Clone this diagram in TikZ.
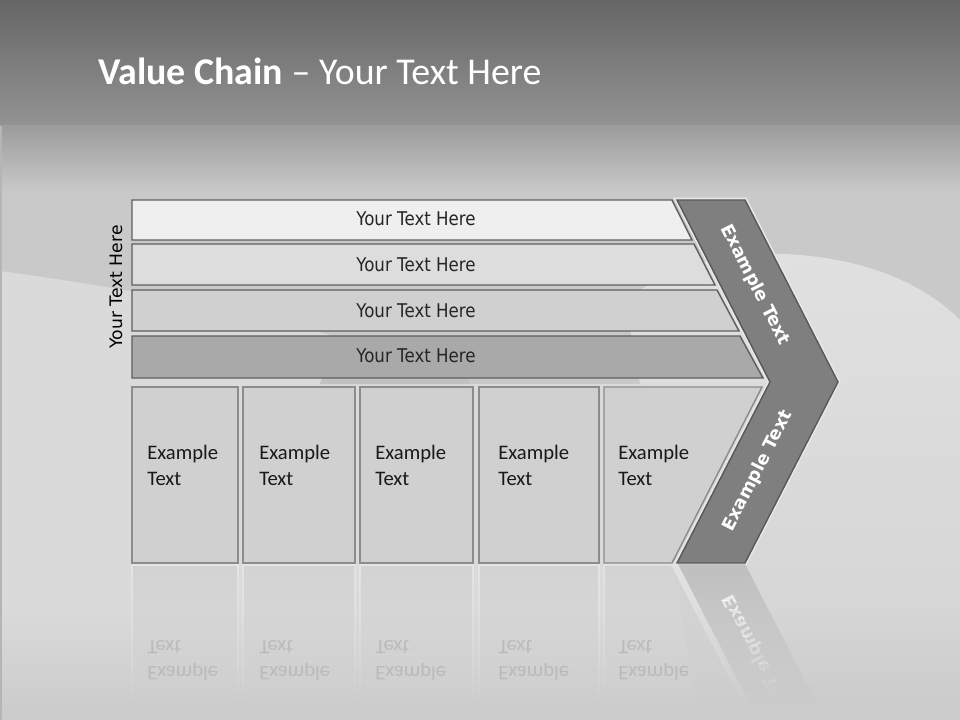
\documentclass[tikz,border=0pt]{standalone}
\usepackage{fontspec}
\setmainfont{Carlito}
\newfontfamily\dv{DejaVu Sans}
\newfontfamily\dvn[FakeStretch=0.88]{DejaVu Sans}
\usetikzlibrary{fadings}
\definecolor{bgtop}{HTML}{666666}
\definecolor{bgband}{HTML}{939393}
\definecolor{bgmidtop}{HTML}{9C9C9C}
\definecolor{bgmid}{HTML}{C9C9C9}
\definecolor{bglight}{HTML}{DADADA}
\definecolor{bglighter}{HTML}{E0E0E0}
\definecolor{bgbottom}{HTML}{CBCBCB}
\definecolor{barA}{HTML}{EFEFEF}
\definecolor{barB}{HTML}{DDDDDD}
\definecolor{barC}{HTML}{D0D0D0}
\definecolor{barD}{HTML}{A9A9A9}
\definecolor{barline}{HTML}{5F5F5F}
\definecolor{boxfill}{HTML}{D0D0D0}
\definecolor{boxline}{HTML}{8C8C8C}
\definecolor{chevfill}{HTML}{7F7F7F}
\definecolor{chevline}{HTML}{5A5A5A}
\definecolor{glow}{HTML}{E8E8E8}
\definecolor{bartext}{HTML}{262626}
\definecolor{reftext}{HTML}{A8A8A8}
\tikzfading[name=reflfade, top color=transparent!35, bottom color=transparent!100]
\tikzfading[name=bottomfade, top color=transparent!100, bottom color=transparent!0]
\begin{document}
\begin{tikzpicture}[x=0.75pt,y=-0.75pt,
  barshape/.style={draw=barline, line width=1.1pt},
  boxshape/.style={fill=boxfill, draw=boxline, line width=1.1pt},
  bartxt/.style={font=\dvn\fontsize{14.2}{17}\selectfont, text=bartext, inner sep=0pt},
  boxtxt/.style={font=\fontsize{15.5}{19.5}\selectfont, text=black!90, align=left, anchor=north west, inner sep=0pt},
  chevtxt/.style={font=\dv\bfseries\fontsize{13.3}{16}\selectfont, text=white, inner sep=0pt},
  reflbox/.style={fill=boxfill, draw=white!85!gray, line width=1.1pt, path fading=reflfade}]
\useasboundingbox (0,0) rectangle (960,720);
% background
\fill[bgmid] (0,0) rectangle (960,720);
\shade[top color=bgtop, bottom color=bgband] (0,0) rectangle (960,126);
\shade[top color=bgmidtop, bottom color=bgmid] (0,126) rectangle (960,192);
\fill[bglight] (0,271) .. controls (80,282) and (200,300) .. (330,335) -- (330,720) -- (0,720) -- cycle;
\fill[bglight] (300,384) rectangle (700,720);
\shade[top color=bglighter, bottom color=bglight!97!black] (625,300) .. controls (680,260) and (740,250) .. (800,255) .. controls (880,262) and (930,290) .. (960,320) -- (960,720) -- (700,720) -- cycle;
\fill[bgmid!96!black] (320,384) .. controls (330,340) and (460,340) .. (470,384) -- cycle;
\fill[bgbottom, path fading=bottomfade] (0,610) rectangle (960,720);
\fill[bgmid!90!black] (0,126) rectangle (2,720);
% title
\node[anchor=base west, inner sep=0pt, text=white, font=\fontsize{28.4}{34}\selectfont] (title) at (98,85) {\textbf{Value Chain} – Your Text Here};
% side label
\node[rotate=90, font=\dv\fontsize{12.9}{15}\selectfont, text=black, inner sep=0pt] (side) at (116,287) {Your Text Here};
% bars
\fill[barA, barshape] (132,200) -- (672,200) -- (692,240) -- (132,240) -- cycle;
\fill[barB, barshape] (132,244) -- (694,244) -- (715,285) -- (132,285) -- cycle;
\fill[barC, barshape] (132,290) -- (717,290) -- (739,331) -- (132,331) -- cycle;
\fill[barD, barshape] (132,336) -- (740,336) -- (763,378) -- (132,378) -- cycle;
\node[bartxt] (t1) at (416,219) {Your Text Here};
\node[bartxt] (t2) at (416,265) {Your Text Here};
\node[bartxt] (t3) at (416,311) {Your Text Here};
\node[bartxt] (t4) at (416,356) {Your Text Here};
% boxes
\path[boxshape] (132,387) rectangle (238,563);
\path[boxshape] (243,387) rectangle (355,563);
\path[boxshape] (360,387) rectangle (473,563);
\path[boxshape] (479,387) rectangle (599,563);
\path[boxshape] (604,387) -- (762,387) -- (672,563) -- (604,563) -- cycle;
\node[boxtxt] (b1) at (147,445) {Example\\Text};
\node[boxtxt] (b2) at (259,445) {Example\\Text};
\node[boxtxt] (b3) at (375,445) {Example\\Text};
\node[boxtxt] (b4) at (498,445) {Example\\Text};
\node[boxtxt] (b5) at (618,445) {Example\\Text};
% chevron
\draw[glow, line width=3.5pt, line join=miter] (677,200) -- (745,200) -- (838,382) -- (745,563) -- (677,563) -- (770,382) -- cycle;
\filldraw[fill=chevfill, draw=chevline, line width=1.1pt] (677,200) -- (745,200) -- (838,382) -- (745,563) -- (677,563) -- (770,382) -- cycle;
\node[chevtxt, rotate=-63] (c1) at (755,285) {Example Text};
\node[chevtxt, rotate=63] (c2) at (758,471) {Example Text};
% reflection
\begin{scope}
\clip (0,564) rectangle (960,706);
\path[reflbox] (132,565) rectangle (238,706);
\path[reflbox] (243,565) rectangle (355,706);
\path[reflbox] (360,565) rectangle (473,706);
\path[reflbox] (479,565) rectangle (599,706);
\path[reflbox] (604,565) -- (672,565) -- (745,706) -- (604,706) -- cycle;
\fill[glow, path fading=reflfade] (672,564) -- (678,564) -- (751,706) -- (745,706) -- cycle;
\fill[chevfill!60!white, path fading=reflfade] (678,564) -- (745,564) -- (818,706) -- (751,706) -- cycle;
\begin{scope}[shift={(0,1126)}, yscale=-1]
\node[boxtxt, transform shape, text=reftext, opacity=0.55] (r1) at (147,445) {Example\\Text};
\node[boxtxt, transform shape, text=reftext, opacity=0.55] (r2) at (259,445) {Example\\Text};
\node[boxtxt, transform shape, text=reftext, opacity=0.55] (r3) at (375,445) {Example\\Text};
\node[boxtxt, transform shape, text=reftext, opacity=0.55] (r4) at (498,445) {Example\\Text};
\node[boxtxt, transform shape, text=reftext, opacity=0.55] (r5) at (618,445) {Example\\Text};
\end{scope}
\foreach \i in {0,...,13} {
  \begin{scope}
  \clip (0,564+\i*9) rectangle (960,573+\i*9);
  \begin{scope}[shift={(0,1126)}, yscale=-1]
  \node[chevtxt, transform shape, rotate=63, opacity={0.85*(1-\i/14)}] (rc\i) at (758,471) {Example Text};
  \end{scope}
  \end{scope}
}
\end{scope}
\end{tikzpicture}
\end{document}
